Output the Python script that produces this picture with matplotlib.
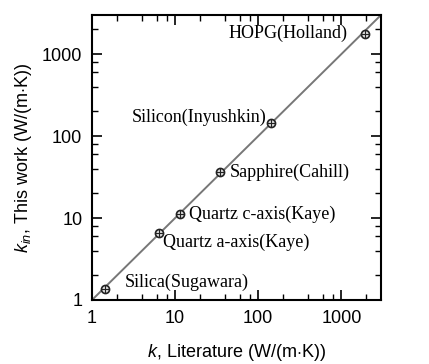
import numpy as np
import matplotlib
matplotlib.use("Agg")
import matplotlib.pyplot as plt
from matplotlib.ticker import LogLocator, FixedLocator, NullFormatter

# data
names = ["Silica(Sugawara)", "Quartz a-axis(Kaye)", "Quartz c-axis(Kaye)",
         "Sapphire(Cahill)", "Silicon(Inyushkin)", "HOPG(Holland)"]
k_lit = [1.43, 6.4, 11.3, 35.0, 142.0, 1900.0]
k_this = [1.36, 6.6, 11.2, 36.7, 143.0, 1740.0]
label_offsets = [(14, 5), (3, -6.5), (7, 0), (7, -0.5), (-3, 4.5), (-12, 0.5)]
label_align = ["left", "left", "left", "left", "right", "right"]

plt.rcParams["font.family"] = ["Liberation Sans", "DejaVu Sans"]
plt.rcParams["mathtext.fontset"] = "custom"
plt.rcParams["mathtext.it"] = "Liberation Sans:italic"
plt.rcParams["mathtext.rm"] = "Liberation Sans"

fig = plt.figure(figsize=(4.29, 3.64), dpi=100)
ax = fig.add_axes([92/429, 1 - 300/364, (381-92)/429, (300-15)/364])

lims = [1, 3000]
ax.plot(lims, lims, color="#777777", lw=1.4, zorder=1)
ax.scatter(k_lit, k_this, s=34, facecolors="#dddddd", edgecolors="#222222",
           linewidths=1.2, zorder=3)
ax.scatter(k_lit, k_this, s=26, marker="+", color="#222222", linewidths=0.8, zorder=4)

for n, x, y, off, ha in zip(names, k_lit, k_this, label_offsets, label_align):
    ax.annotate(n, (x, y), xytext=off, textcoords="offset points", ha=ha,
                va="center", family=["Liberation Serif", "DejaVu Serif"], fontsize=13)

ax.set_xscale("log")
ax.set_yscale("log")
ax.set_xlim(lims)
ax.set_ylim(lims)
for a in (ax.xaxis, ax.yaxis):
    a.set_major_locator(FixedLocator([1, 10, 100, 1000]))
    a.set_minor_locator(LogLocator(base=10, subs=[2, 4, 6, 8]))
    a.set_minor_formatter(NullFormatter())
ax.set_xticklabels(["1", "10", "100", "1000"])
ax.set_yticklabels(["1", "10", "100", "1000"])

ax.tick_params(which="both", direction="in", top=True, right=True, labelsize=13)
ax.tick_params(which="major", length=7, width=1.2, pad=7)
ax.tick_params(which="minor", length=4, width=1.0)
for s in ax.spines.values():
    s.set_linewidth(1.5)

ax.set_xlabel(r"$k$, Literature (W/(m$\cdot$K))", fontsize=13, labelpad=11)
ax.set_ylabel(r"$k_{in}$, This work (W/(m$\cdot$K))", fontsize=13, labelpad=6)

fig.savefig("out.png", dpi=100)
